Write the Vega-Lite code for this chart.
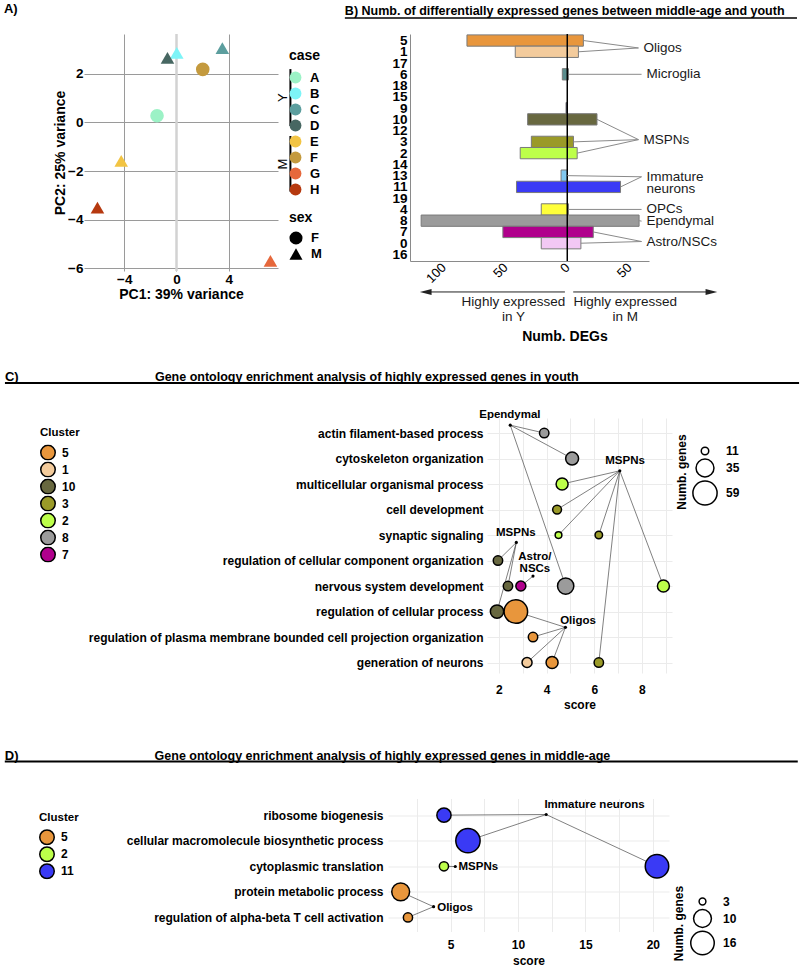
{
"$schema":"https://vega.github.io/schema/vega-lite/v6.json",
"padding":{"left":2,"top":2,"right":0,"bottom":0},
"background":"white",
"config":{"font":"Liberation Sans","view":{"stroke":null},"axis":{"labelColor":"black","titleColor":"black"},"legend":{"labelColor":"black","titleColor":"black","padding":0}},
"datasets":{
"pca":[
{"case":"A","sex":"F","PC1":-1.49,"PC2":0.28},
{"case":"B","sex":"M","PC1":0.02,"PC2":2.87},
{"case":"C","sex":"M","PC1":3.51,"PC2":3.06},
{"case":"D","sex":"M","PC1":-0.69,"PC2":2.66},
{"case":"E","sex":"M","PC1":-4.23,"PC2":-1.58},
{"case":"F","sex":"F","PC1":2.01,"PC2":2.19},
{"case":"G","sex":"M","PC1":7.19,"PC2":-5.7},
{"case":"H","sex":"M","PC1":-6.05,"PC2":-3.51}],
"degs":[
{"cluster":"5","youth":-81,"middle":13,"celltype":"Oligos"},
{"cluster":"1","youth":-42,"middle":9,"celltype":"Oligos"},
{"cluster":"6","youth":-4,"middle":1,"celltype":"Microglia"},
{"cluster":"9","youth":-1,"middle":0,"celltype":null},
{"cluster":"10","youth":-32,"middle":24,"celltype":"MSPNs"},
{"cluster":"3","youth":-29,"middle":5,"celltype":"MSPNs"},
{"cluster":"2","youth":-38,"middle":8,"celltype":"MSPNs"},
{"cluster":"13","youth":-5,"middle":0,"celltype":"Immature neurons"},
{"cluster":"11","youth":-41,"middle":43,"celltype":"Immature neurons"},
{"cluster":"4","youth":-21,"middle":1,"celltype":"OPCs"},
{"cluster":"8","youth":-118,"middle":58,"celltype":"Ependymal"},
{"cluster":"7","youth":-52,"middle":21,"celltype":"Astro/NSCs"},
{"cluster":"0","youth":-21,"middle":11,"celltype":"Astro/NSCs"}],
"orderB":[
{"cluster":"5","pos":0},{"cluster":"1","pos":1},{"cluster":"17","pos":2},{"cluster":"6","pos":3},{"cluster":"18","pos":4},
{"cluster":"15","pos":5},{"cluster":"9","pos":6},{"cluster":"10","pos":7},{"cluster":"12","pos":8},{"cluster":"3","pos":9},
{"cluster":"2","pos":10},{"cluster":"14","pos":11},{"cluster":"13","pos":12},{"cluster":"11","pos":13},{"cluster":"19","pos":14},
{"cluster":"4","pos":15},{"cluster":"8","pos":16},{"cluster":"7","pos":17},{"cluster":"0","pos":18},{"cluster":"16","pos":19}],
"labelsB":[
{"celltype":"Oligos","lx":57.5,"ly":0.66},
{"celltype":"Microglia","lx":60,"ly":3},
{"celltype":"MSPNs","lx":57.5,"ly":8.8},
{"celltype":"Immature neurons","lx":60,"ly":12.1},
{"celltype":"OPCs","lx":60,"ly":15},
{"celltype":"Ependymal","lx":60,"ly":16.04},
{"celltype":"Astro/NSCs","lx":60,"ly":17.85}],
"goY":[
{"term":"actin filament-based process","cluster":"8","score":3.9,"genes":14,"group":"Ependymal"},
{"term":"cytoskeleton organization","cluster":"8","score":5.07,"genes":21,"group":"Ependymal"},
{"term":"multicellular organismal process","cluster":"2","score":4.65,"genes":19,"group":"MSPNs-a"},
{"term":"cell development","cluster":"3","score":4.44,"genes":13,"group":"MSPNs-a"},
{"term":"synaptic signaling","cluster":"2","score":4.5,"genes":10,"group":"MSPNs-a"},
{"term":"synaptic signaling","cluster":"3","score":6.19,"genes":11,"group":"MSPNs-a"},
{"term":"regulation of cellular component organization","cluster":"10","score":1.96,"genes":14,"group":"MSPNs-b"},
{"term":"nervous system development","cluster":"10","score":2.38,"genes":14,"group":"MSPNs-b"},
{"term":"nervous system development","cluster":"7","score":2.92,"genes":15,"group":"Astro/NSCs"},
{"term":"nervous system development","cluster":"8","score":4.8,"genes":30,"group":"Ependymal"},
{"term":"nervous system development","cluster":"2","score":8.9,"genes":19,"group":"MSPNs-a"},
{"term":"regulation of cellular process","cluster":"10","score":1.92,"genes":22,"group":"MSPNs-b"},
{"term":"regulation of cellular process","cluster":"5","score":2.71,"genes":56,"group":"Oligos"},
{"term":"regulation of plasma membrane bounded cell projection organization","cluster":"5","score":3.43,"genes":14,"group":"Oligos"},
{"term":"generation of neurons","cluster":"1","score":3.18,"genes":15,"group":"Oligos"},
{"term":"generation of neurons","cluster":"5","score":4.23,"genes":19,"group":"Oligos"},
{"term":"generation of neurons","cluster":"3","score":6.19,"genes":14,"group":"MSPNs-a"}],
"termsC":[
{"term":"actin filament-based process","pos":0},
{"term":"cytoskeleton organization","pos":1},
{"term":"multicellular organismal process","pos":2},
{"term":"cell development","pos":3},
{"term":"synaptic signaling","pos":4},
{"term":"regulation of cellular component organization","pos":5},
{"term":"nervous system development","pos":6},
{"term":"regulation of cellular process","pos":7},
{"term":"regulation of plasma membrane bounded cell projection organization","pos":8},
{"term":"generation of neurons","pos":9}],
"annC":[
{"group":"Ependymal","label":"Ependymal","ax":2.475,"ay":-0.31,"tx":2.46,"ty":-0.71},
{"group":"MSPNs-a","label":"MSPNs","ax":7.07,"ay":1.48,"tx":7.29,"ty":1.1},
{"group":"MSPNs-b","label":"MSPNs","ax":2.73,"ay":4.29,"tx":2.71,"ty":3.91},
{"group":"Astro/NSCs","label":"Astro/ NSCs","ax":3.43,"ay":5.61,"tx":3.51,"ty":4.85},
{"group":"Oligos","label":"Oligos","ax":4.79,"ay":7.62,"tx":5.32,"ty":7.36}],
"goM":[
{"term":"ribosome biogenesis","cluster":"11","score":4.51,"genes":7,"group":"Immature neurons"},
{"term":"cellular macromolecule biosynthetic process","cluster":"11","score":6.29,"genes":17,"group":"Immature neurons"},
{"term":"cytoplasmic translation","cluster":"2","score":4.51,"genes":4,"group":"MSPNs"},
{"term":"cytoplasmic translation","cluster":"11","score":20.31,"genes":16,"group":"Immature neurons"},
{"term":"protein metabolic process","cluster":"5","score":1.3,"genes":10,"group":"Oligos"},
{"term":"regulation of alpha-beta T cell activation","cluster":"5","score":1.84,"genes":4,"group":"Oligos"}],
"termsD":[
{"term":"ribosome biogenesis","pos":0},
{"term":"cellular macromolecule biosynthetic process","pos":1},
{"term":"cytoplasmic translation","pos":2},
{"term":"protein metabolic process","pos":3},
{"term":"regulation of alpha-beta T cell activation","pos":4}],
"annD":[
{"group":"Immature neurons","label":"Immature neurons","ax":12.09,"ay":-0.024,"tx":11.96,"ty":-0.415},
{"group":"MSPNs","label":"MSPNs","ax":5.35,"ay":2.01,"tx":5.59,"ty":2.01},
{"group":"Oligos","label":"Oligos","ax":3.74,"ay":3.58,"tx":4.01,"ty":3.65}]
},
"spacing":39.5,
"resolve":{"scale":{"x":"independent","y":"independent","color":"independent","fill":"independent","size":"independent","shape":"independent"}},
"vconcat":[
{"spacing":25,
 "resolve":{"scale":{"x":"independent","y":"independent","color":"independent","fill":"independent","size":"independent","shape":"independent"}},
 "vconcat":[
 {"spacing":0,
  "resolve":{"scale":{"x":"independent","y":"independent","color":"independent","fill":"independent","size":"independent","shape":"independent"}},
  "hconcat":[
  {"width":1,"height":1,"data":{"values":[{}]},"mark":{"type":"text","text":" "},"encoding":{}},
  {"spacing":22,
   "resolve":{"scale":{"x":"independent","y":"independent","color":"independent","fill":"independent","size":"independent","shape":"independent"}},
   "hconcat":[
   {"width":194,"height":237,
    "resolve":{"axis":{"x":"independent","y":"independent"}},
    "layer":[
     {"data":{"values":[{}]},"mark":{"type":"rule","color":"#d2d2d2","strokeWidth":2.5},"encoding":{"x":{"datum":0,"axis":null}}},
     {"data":{"name":"pca"},"mark":{"type":"point","filled":true,"opacity":1,"size":185},
      "encoding":{
       "x":{"field":"PC1","type":"quantitative","scale":{"domain":[-7.08,7.77],"nice":false,"zero":false},
         "axis":{"orient":"bottom","values":[-4,0,4],"title":"PC1: 39% variance","grid":true,"gridColor":"#9a9a9a","domain":false,"ticks":false,"labelFontSize":13.5,"labelFontWeight":"bold","labelPadding":1,"titleFontSize":14,"titleFontWeight":"bold","titlePadding":2,"labelFlush":false}},
       "y":{"field":"PC2","type":"quantitative","scale":{"domain":[-6.12,3.646],"nice":false,"zero":false},
         "axis":{"orient":"left","values":[-6,-4,-2,0,2],"title":"PC2: 25% variance","grid":true,"gridColor":"#9a9a9a","domain":false,"ticks":false,"labelFontSize":13.5,"labelFontWeight":"bold","labelPadding":1,"titleFontSize":14,"titleFontWeight":"bold","titlePadding":0,"labelFlush":false}},
       "color":{"field":"case","type":"nominal","scale":{"domain":["A","B","C","D","E","F","G","H"],"range":["#9CF2C6","#7DF4F7","#5C9E9E","#476762","#F2C443","#C49A3E","#E6683C","#B6390F"]},
         "legend":{"orient":"none","legendX":205,"legendY":15,"title":"case","titleFontSize":14,"titleFontWeight":"bold","labelFontSize":13,"labelFontWeight":"bold","symbolType":"circle","symbolSize":140,"symbolStrokeWidth":0,"rowPadding":2,"titlePadding":8,"labelOffset":8}},
       "shape":{"field":"sex","type":"nominal","scale":{"domain":["F","M"],"range":["circle","triangle-up"]},
         "legend":{"orient":"none","legendX":205,"legendY":177,"title":"sex","titleFontSize":14,"titleFontWeight":"bold","labelFontSize":13,"labelFontWeight":"bold","symbolSize":170,"symbolFillColor":"black","symbolStrokeColor":"black","symbolStrokeWidth":0,"rowPadding":2,"titlePadding":6,"labelOffset":8}}
      }},
     {"data":{"values":[{}]},"mark":{"type":"rule","color":"black","strokeWidth":2},"encoding":{"x":{"datum":8.72,"axis":null},"y":{"datum":2.2,"axis":null},"y2":{"datum":-0.145}}},
     {"data":{"values":[{}]},"mark":{"type":"rule","color":"black","strokeWidth":2},"encoding":{"x":{"datum":8.72,"axis":null},"y":{"datum":-0.557,"axis":null},"y2":{"datum":-2.85}}},
     {"data":{"values":[{}]},"mark":{"type":"text","text":"Y","angle":270,"fontSize":13,"align":"center","baseline":"middle"},"encoding":{"x":{"datum":8.13,"axis":null},"y":{"datum":1.02,"axis":null}}},
     {"data":{"values":[{}]},"mark":{"type":"text","text":"M","angle":270,"fontSize":13,"align":"center","baseline":"middle"},"encoding":{"x":{"datum":8.13,"axis":null},"y":{"datum":-1.71,"axis":null}}},
     {"data":{"values":[{}]},"mark":{"type":"text","text":"A)","fontSize":13,"fontWeight":"bold","align":"left","baseline":"middle"},"encoding":{"x":{"datum":-13.21,"axis":null},"y":{"datum":4.68,"axis":null}}}
    ]},
   {"width":239,"height":227,
    "resolve":{"axis":{"x":"independent","y":"independent"}},
    "layer":[
     {"data":{"name":"degs"},"transform":[{"lookup":"cluster","from":{"data":{"name":"orderB"},"key":"cluster","fields":["pos"]}}],
      "mark":{"type":"bar","orient":"horizontal","height":11.3,"stroke":"#7a7a7a","strokeWidth":1},
      "encoding":{
       "y":{"field":"pos","type":"quantitative","scale":{"domain":[-0.58,19.58],"reverse":true,"nice":false,"zero":false,"padding":0},
         "axis":{"orient":"left","values":[0,1,2,3,4,5,6,7,8,9,10,11,12,13,14,15,16,17,18,19],"labelExpr":"['5','1','17','6','18','15','9','10','12','3','2','14','13','11','19','4','8','7','0','16'][datum.value]","title":null,"ticks":false,"grid":false,"domain":true,"domainColor":"#8a8a8a","labelFontSize":13.5,"labelFontWeight":"bold","labelPadding":3,"labelOverlap":false,"labelFlush":false,"labelBaseline":"middle"}},
       "x":{"field":"youth","type":"quantitative","scale":{"domain":[-127,66],"nice":false,"zero":false,"padding":0},
         "axis":{"orient":"bottom","values":[-100,-50,0,50],"labelExpr":"'' + abs(datum.value)","title":null,"ticks":false,"grid":false,"domain":true,"domainColor":"#8a8a8a","labelAngle":-45,"labelAlign":"right","labelBaseline":"middle","labelFontSize":13,"labelPadding":4,"labelFlush":false,"labelOverlap":false}},
       "x2":{"field":"middle"},
       "color":{"field":"cluster","type":"nominal","scale":{"domain":["5","1","6","9","10","3","2","13","11","4","8","7","0"],"range":["#E8963C","#F3CB9C","#5A8C8C","#33336B","#686840","#9A9A28","#BDFF4A","#80C8F0","#3A3AF5","#FFFF3A","#9B9B9B","#B0008C","#F2C8F4"]},"legend":null}
      }},
     {"data":{"values":[{}]},"mark":{"type":"rule","color":"black","strokeWidth":1.5},"encoding":{"x":{"datum":0,"axis":null}}},
     {"data":{"name":"degs"},"transform":[{"filter":"isValid(datum.celltype)"},{"lookup":"cluster","from":{"data":{"name":"orderB"},"key":"cluster","fields":["pos"]}},{"lookup":"celltype","from":{"data":{"name":"labelsB"},"key":"celltype","fields":["lx","ly"]}}],
      "mark":{"type":"rule","color":"#8a8a8a","strokeWidth":1},
      "encoding":{"x":{"field":"middle","type":"quantitative","axis":null},"y":{"field":"pos","type":"quantitative","axis":null},"x2":{"field":"lx"},"y2":{"field":"ly"}}},
     {"data":{"name":"labelsB"},"mark":{"type":"text","align":"left","baseline":"middle","dx":5,"fontSize":13.5,"lineBreak":" ","lineHeight":12.7,"color":"#1a1a1a"},
      "encoding":{"x":{"field":"lx","type":"quantitative","axis":null},"y":{"field":"ly","type":"quantitative","axis":null},"text":{"field":"celltype"}}},
     {"data":{"values":[{}]},"mark":{"type":"rule","color":"#222222","strokeWidth":1},"encoding":{"x":{"datum":-1.9,"axis":null},"x2":{"datum":-114.3},"y":{"datum":22.33,"axis":null}}},
     {"data":{"values":[{}]},"mark":{"type":"rule","color":"#222222","strokeWidth":1},"encoding":{"x":{"datum":4.8,"axis":null},"x2":{"datum":116.4},"y":{"datum":22.33,"axis":null}}},
     {"data":{"values":[{}]},"mark":{"type":"point","shape":"M-1,0L1,-0.5L1,0.5Z","filled":true,"opacity":1,"color":"#222222","size":137},"encoding":{"x":{"datum":-114.3,"axis":null},"y":{"datum":22.33,"axis":null}}},
     {"data":{"values":[{}]},"mark":{"type":"point","shape":"M1,0L-1,-0.5L-1,0.5Z","filled":true,"opacity":1,"color":"#222222","size":137},"encoding":{"x":{"datum":116.4,"axis":null},"y":{"datum":22.33,"axis":null}}},
     {"data":{"values":[{}]},"mark":{"type":"text","text":["Highly expressed","in Y"],"fontSize":13.5,"lineHeight":15,"align":"center","baseline":"middle","color":"#1a1a1a"},"encoding":{"x":{"datum":-43.5,"axis":null},"y":{"datum":23.22,"axis":null}}},
     {"data":{"values":[{}]},"mark":{"type":"text","text":["Highly expressed","in M"],"fontSize":13.5,"lineHeight":15,"align":"center","baseline":"middle","color":"#1a1a1a"},"encoding":{"x":{"datum":46.8,"axis":null},"y":{"datum":23.22,"axis":null}}},
     {"data":{"values":[{}]},"mark":{"type":"text","text":"Numb. DEGs","fontSize":14,"fontWeight":"bold","align":"center","baseline":"middle"},"encoding":{"x":{"datum":-1.9,"axis":null},"y":{"datum":26.33,"axis":null}}},
     {"data":{"values":[{}]},"mark":{"type":"text","text":"B) Numb. of differentially expressed genes between middle-age and youth","fontSize":12.5,"fontWeight":"bold","align":"left","baseline":"middle"},"encoding":{"x":{"datum":-179.6,"axis":null},"y":{"datum":-2.62,"axis":null}}},
     {"data":{"values":[{}]},"mark":{"type":"rule","color":"black","strokeWidth":1.5},"encoding":{"x":{"datum":-179.6,"axis":null},"x2":{"datum":185.5},"y":{"datum":-2.0,"axis":null}}}
    ]}
   ]}
  ]},
 {"spacing":0,
  "resolve":{"scale":{"x":"independent","y":"independent","color":"independent","fill":"independent","size":"independent","shape":"independent"}},
  "hconcat":[
  {"width":1,"height":1,"data":{"values":[{}]},"mark":{"type":"text","text":" "},"encoding":{}},
  {"width":185,"height":255,
   "resolve":{"axis":{"x":"independent","y":"independent"}},
   "layer":[
    {"data":{"values":[{}]},"mark":{"type":"rule","color":"black","strokeWidth":2},"encoding":{"x":{"datum":-18.72,"axis":null},"x2":{"datum":14.59},"y":{"datum":-1.96,"axis":null}}},
    {"data":{"values":[{}]},"mark":{"type":"text","text":"C)","fontSize":13,"fontWeight":"bold","align":"left","baseline":"middle"},"encoding":{"x":{"datum":-18.72,"axis":null},"y":{"datum":-2.2,"axis":null}}},
    {"data":{"values":[{}]},"mark":{"type":"text","text":"Gene ontology enrichment analysis of highly expressed genes in youth","fontSize":12.5,"fontWeight":"bold","align":"left","baseline":"middle"},"encoding":{"x":{"datum":-12.43,"axis":null},"y":{"datum":-2.2,"axis":null}}},
    {"data":{"values":[{}]},"mark":{"type":"text","text":"Numb. genes","angle":270,"fontSize":12,"fontWeight":"bold","align":"center","baseline":"middle"},"encoding":{"x":{"datum":9.68,"axis":null},"y":{"datum":1.53,"axis":null}}},
    {"data":{"name":"goY"},"transform":[{"lookup":"term","from":{"data":{"name":"termsC"},"key":"term","fields":["pos"]}},{"lookup":"group","from":{"data":{"name":"annC"},"key":"group","fields":["ax","ay"]}}],
     "mark":{"type":"rule","color":"#4a4a4a","strokeWidth":0.7},
     "encoding":{"x":{"field":"score","type":"quantitative","axis":null},"y":{"field":"pos","type":"quantitative","axis":null},"x2":{"field":"ax"},"y2":{"field":"ay"}}},
    {"data":{"name":"goY"},"transform":[{"lookup":"term","from":{"data":{"name":"termsC"},"key":"term","fields":["pos"]}}],
     "mark":{"type":"point","filled":true,"opacity":1,"stroke":"black","strokeWidth":1.5,"shape":"circle"},
     "encoding":{
      "x":{"field":"score","type":"quantitative","scale":{"domain":[1.5,9.26],"nice":false,"zero":false},
        "axis":{"orient":"bottom","values":[2,3,4,5,6,7,8,9],"labelExpr":"datum.value % 2 == 0 ? datum.label : ''","title":"score","grid":true,"gridColor":"#ebebeb","domain":false,"ticks":false,"labelFontSize":12,"labelFontWeight":"bold","labelPadding":11,"titleFontSize":12,"titleFontWeight":"bold","titlePadding":4,"labelFlush":false}},
      "y":{"field":"pos","type":"quantitative","scale":{"domain":[-0.59,9.41],"reverse":true,"nice":false,"zero":false},
        "axis":{"orient":"left","values":[0,1,2,3,4,5,6,7,8,9],"labelExpr":"['actin filament-based process','cytoskeleton organization','multicellular organismal process','cell development','synaptic signaling','regulation of cellular component organization','nervous system development','regulation of cellular process','regulation of plasma membrane bounded cell projection organization','generation of neurons'][datum.value]","title":null,"grid":true,"gridColor":"#ebebeb","domain":false,"ticks":false,"labelFontSize":12,"labelFontWeight":"bold","labelPadding":4,"labelLimit":600,"labelOverlap":false,"labelFlush":false}},
      "fill":{"field":"cluster","type":"nominal","scale":{"domain":["5","1","10","3","2","8","7"],"range":["#E8963C","#F3CB9C","#686840","#9A9A28","#BDFF4A","#9B9B9B","#B0008C"]},
        "legend":{"orient":"none","legendX":-447,"legendY":9,"title":"Cluster","titleFontSize":11.5,"titleFontWeight":"bold","labelFontSize":12,"labelFontWeight":"bold","symbolType":"circle","symbolSize":210,"symbolStrokeColor":"black","symbolStrokeWidth":1.5,"clipHeight":16.1,"rowPadding":0,"titlePadding":6,"labelOffset":6}},
      "size":{"field":"genes","type":"quantitative","scale":{"domain":[11,59],"range":[56,586],"zero":false},
        "legend":{"orient":"none","legendX":205,"legendY":27,"title":null,"labelFontSize":12,"labelFontWeight":"bold","values":[11,35,59],"symbolType":"circle","symbolFillColor":"white","symbolStrokeColor":"black","symbolStrokeWidth":1.5,"rowPadding":-4,"labelOffset":8}}
     }},
    {"data":{"name":"annC"},"mark":{"type":"point","filled":true,"opacity":1,"color":"black","size":10},"encoding":{"x":{"field":"ax","type":"quantitative","axis":null},"y":{"field":"ay","type":"quantitative","axis":null}}},
    {"data":{"name":"annC"},"mark":{"type":"text","fontSize":11.5,"fontWeight":"bold","align":"center","baseline":"middle","lineBreak":" ","lineHeight":12},"encoding":{"x":{"field":"tx","type":"quantitative","axis":null},"y":{"field":"ty","type":"quantitative","axis":null},"text":{"field":"label"}}}
   ]}
  ]}
 ]},
{"spacing":0,
 "resolve":{"scale":{"x":"independent","y":"independent","color":"independent","fill":"independent","size":"independent","shape":"independent"}},
 "hconcat":[
 {"width":1,"height":1,"data":{"values":[{}]},"mark":{"type":"text","text":" "},"encoding":{}},
 {"width":281,"height":133,
  "resolve":{"axis":{"x":"independent","y":"independent"}},
  "layer":[
   {"data":{"values":[{}]},"mark":{"type":"rule","color":"black","strokeWidth":2},"encoding":{"x":{"datum":-28.06,"axis":null},"x2":{"datum":30.75},"y":{"datum":-2.1,"axis":null}}},
   {"data":{"values":[{}]},"mark":{"type":"text","text":"D)","fontSize":13,"fontWeight":"bold","align":"left","baseline":"middle"},"encoding":{"x":{"datum":-28.06,"axis":null},"y":{"datum":-2.33,"axis":null}}},
   {"data":{"values":[{}]},"mark":{"type":"text","text":"Gene ontology enrichment analysis of highly expressed genes in middle-age","fontSize":12.5,"fontWeight":"bold","align":"left","baseline":"middle"},"encoding":{"x":{"datum":-16.95,"axis":null},"y":{"datum":-2.33,"axis":null}}},
   {"data":{"values":[{}]},"mark":{"type":"text","text":"Numb. genes","angle":270,"fontSize":12,"fontWeight":"bold","align":"center","baseline":"middle"},"encoding":{"x":{"datum":21.94,"axis":null},"y":{"datum":4.24,"axis":null}}},
   {"data":{"name":"goM"},"transform":[{"lookup":"term","from":{"data":{"name":"termsD"},"key":"term","fields":["pos"]}},{"lookup":"group","from":{"data":{"name":"annD"},"key":"group","fields":["ax","ay"]}}],
    "mark":{"type":"rule","color":"#4a4a4a","strokeWidth":0.7},
    "encoding":{"x":{"field":"score","type":"quantitative","axis":null},"y":{"field":"pos","type":"quantitative","axis":null},"x2":{"field":"ax"},"y2":{"field":"ay"}}},
   {"data":{"name":"goM"},"transform":[{"lookup":"term","from":{"data":{"name":"termsD"},"key":"term","fields":["pos"]}}],
    "mark":{"type":"point","filled":true,"opacity":1,"stroke":"black","strokeWidth":1.5,"shape":"circle"},
    "encoding":{
     "x":{"field":"score","type":"quantitative","scale":{"domain":[0.36,21.2],"nice":false,"zero":false},
       "axis":{"orient":"bottom","values":[2.5,5,7.5,10,12.5,15,17.5,20],"labelExpr":"datum.value % 5 == 0 ? datum.label : ''","title":"score","grid":true,"gridColor":"#ebebeb","domain":false,"ticks":false,"labelFontSize":12,"labelFontWeight":"bold","labelPadding":8,"titleFontSize":12,"titleFontWeight":"bold","titlePadding":5,"labelFlush":false}},
     "y":{"field":"pos","type":"quantitative","scale":{"domain":[-0.65,4.55],"reverse":true,"nice":false,"zero":false},
       "axis":{"orient":"left","values":[0,1,2,3,4],"labelExpr":"['ribosome biogenesis','cellular macromolecule biosynthetic process','cytoplasmic translation','protein metabolic process','regulation of alpha-beta T cell activation'][datum.value]","title":null,"grid":true,"gridColor":"#ebebeb","domain":false,"ticks":false,"labelFontSize":12,"labelFontWeight":"bold","labelPadding":5,"labelLimit":600,"labelOverlap":false,"labelFlush":false}},
     "fill":{"field":"cluster","type":"nominal","scale":{"domain":["5","2","11"],"range":["#E8963C","#BDFF4A","#3A3AF5"]},
       "legend":{"orient":"none","legendX":-349,"legendY":13,"title":"Cluster","titleFontSize":11.5,"titleFontWeight":"bold","labelFontSize":12,"labelFontWeight":"bold","symbolType":"circle","symbolSize":210,"symbolStrokeColor":"black","symbolStrokeWidth":1.5,"clipHeight":16.5,"rowPadding":0,"titlePadding":6,"labelOffset":6}},
     "size":{"field":"genes","type":"quantitative","scale":{"domain":[3,16],"range":[46,552],"zero":false},
       "legend":{"orient":"none","legendX":302,"legendY":97,"title":null,"labelFontSize":12,"labelFontWeight":"bold","values":[3,10,16],"symbolType":"circle","symbolFillColor":"white","symbolStrokeColor":"black","symbolStrokeWidth":1.5,"rowPadding":-3,"labelOffset":8}}
    }},
   {"data":{"name":"annD"},"mark":{"type":"point","filled":true,"opacity":1,"color":"black","size":10},"encoding":{"x":{"field":"ax","type":"quantitative","axis":null},"y":{"field":"ay","type":"quantitative","axis":null}}},
   {"data":{"name":"annD"},"mark":{"type":"text","fontSize":11.5,"fontWeight":"bold","align":"left","baseline":"middle"},"encoding":{"x":{"field":"tx","type":"quantitative","axis":null},"y":{"field":"ty","type":"quantitative","axis":null},"text":{"field":"label"}}}
  ]}
 ]}
]
}
